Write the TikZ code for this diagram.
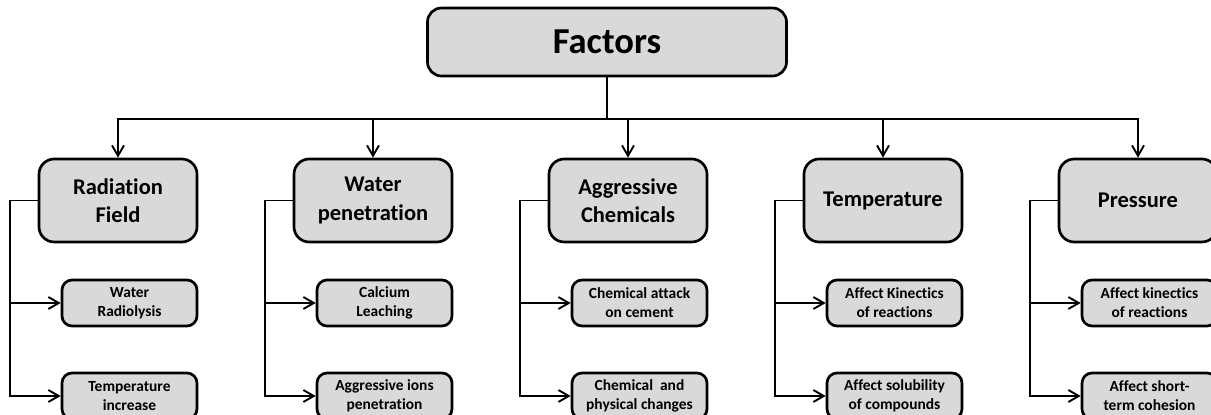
\documentclass[tikz,border=0pt]{standalone}
\usepackage{fontspec}
\setmainfont{Carlito}[Ligatures=NoCommon]
\usetikzlibrary{trees,arrows.meta}

\begin{document}
\begin{tikzpicture}[
        font=\bfseries,
        box/.style={draw, line width=1.9pt, fill=gray!30, align=center, inner sep=0pt},
        edge from parent/.style={draw, line width=1.35pt, -{Straight Barb[length=2.6mm,width=3mm]}},
        grow via three points={one child at (0.525,-3.9625) and two children at (-2.6625,-3.9625) and (3.7125,-3.9625)},
        edge from parent path={(\tikzparentnode.south) -- ++(0,-1.05) -| (\tikzchildnode.north)},
        level 1/.style={
            every node/.style={box, rounded corners=0.38cm, minimum width=3.95cm, minimum height=2.075cm,
                font=\bfseries\fontsize{16}{20}\selectfont}
        },
        level 2/.style={
            grow via three points={one child at (0.2875,-2.5625) and two children at (0.2875,-2.5625) and (0.2875,-4.8875)},
            edge from parent path={(\tikzparentnode.west) -- ++(-0.7,0) |- (\tikzchildnode.west)},
            every node/.style={box, rounded corners=0.25cm, minimum width=3.375cm, minimum height=1.15cm,
                font=\bfseries\fontsize{11}{13.5}\selectfont}
        }
    ]
    \useasboundingbox (0,0) rectangle (30.275,-10.375);
    \node[box, rounded corners=0.35cm, minimum width=8.975cm, minimum height=1.7cm,
          font=\bfseries\fontsize{26}{30}\selectfont] (f) at (15.175,-1.05) {Factors}
    child {
            node (rad) {Radiation\\Field}
            child {node (rad1) {Water\\Radiolysis}}
            child {node (rad2) {Temperature\\increase}}
        }
    child {
            node (wat) {Water\\penetration}
            child {node (wat1) {Calcium\\Leaching}}
            child {node (wat2) {Aggressive ions\\penetration}}
        }
    child {
            node (agg) {Aggressive\\Chemicals}
            child {node (agg1) {Chemical attack\\on cement}}
            child {node (agg2) {Chemical~ and\\physical changes}}
        }
    child {
            node (tem) {Temperature}
            child {node (tem1) {Affect Kinectics\\of reactions}}
            child {node (tem2) {Affect solubility\\of compounds}}
        }
    child {
            node (pre) {Pressure}
            child {node (pre1) {Affect kinectics\\of reactions}}
            child {node (pre2) {Affect short-\\term cohesion}}
        };
\end{tikzpicture}
\end{document}
